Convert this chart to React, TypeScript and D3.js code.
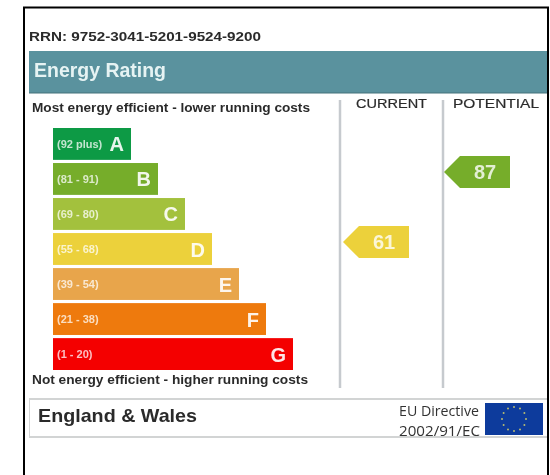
import * as d3 from 'd3';

const ratings = ['A', 'B', 'C', 'D', 'E', 'F', 'G'];
const ranges = ['(92 plus)', '(81 - 91)', '(69 - 80)', '(55 - 68)', '(39 - 54)', '(21 - 38)', '(1 - 20)'];
const barSteps = [1, 2, 3, 4, 5, 6, 7];
const columns = ['CURRENT', 'POTENTIAL'];
const scores = [61, 87];
const scoreBands = ['D', 'B'];
const flagStars = [0, 30, 60, 90, 120, 150, 180, 210, 240, 270, 300, 330];

const colours = ['#0f9a45', '#76ad2c', '#a3c13c', '#ecd13a', '#e8a54c', '#ee7a0a', '#f40006'];
const SANS = '"Liberation Sans", Arial, sans-serif';

const x = d3.scaleLinear().domain([1, 7]).range([131, 293]);
const y = d3.scaleBand().domain(ratings).range([128, 370]).paddingInner(0.09);
const colour = d3.scaleOrdinal<string, string>().domain(ratings).range(colours);
const columnX = d3.scaleOrdinal<string, number>().domain(columns).range([340, 443]);
const arrowX = d3.scaleOrdinal<string, number>().domain(columns).range([343, 444]);
const headX = d3.scaleOrdinal<string, number>().domain(columns).range([356, 453]);
const headW = d3.scaleOrdinal<string, number>().domain(columns).range([71, 86]);

// arrow flag pointing left, the body is 50px wide and the tip 16px
const arrow = d3.line();
const arrowPath = (left: number, top: number, h: number) =>
  arrow([
    [left, top + h / 2],
    [left + 16, top],
    [left + 66, top],
    [left + 66, top + h],
    [left + 16, top + h],
  ]) + 'Z';

const starAngle = d3.scaleLinear().domain([0, 360]).range([0, 2 * Math.PI]);

export default function App() {
  const bh = y.bandwidth();
  return (
    <svg
      width={550}
      height={475}
      style={{ position: 'absolute', left: 0, top: 0, background: '#fff' }}
      fontFamily={SANS}
    >
      <defs>
        <filter id="soft" x="0" y="0" width="100%" height="100%">
          <feGaussianBlur stdDeviation="0.6" />
        </filter>
      </defs>
      <g filter="url(#soft)">
        <text x={29} y={41} fontSize={13} fontWeight="bold" fill="#2b2b2b" textLength={232} lengthAdjust="spacingAndGlyphs">
          RRN: 9752-3041-5201-9524-9200
        </text>

        <rect x={29} y={51} width={519} height={42} fill="#5a929e" />
        <line x1={29} x2={548} y1={93} y2={93} stroke="#44707a" strokeWidth={1} />
        <text x={34} y={77} fontSize={19.5} fontWeight="bold" fill="#e6f3f3" textLength={132} lengthAdjust="spacingAndGlyphs">
          Energy Rating
        </text>

        <text x={32} y={112} fontSize={12} fontWeight="bold" fill="#2b2b2b" textLength={278} lengthAdjust="spacingAndGlyphs">
          Most energy efficient - lower running costs
        </text>
        <text x={32} y={384} fontSize={12} fontWeight="bold" fill="#2b2b2b" textLength={276} lengthAdjust="spacingAndGlyphs">
          Not energy efficient - higher running costs
        </text>

        {ratings.map((r, i) => {
          const end = x(barSteps[i]);
          const top = y(r) as number;
          return (
            <g key={r}>
              <rect x={53} y={top} width={end - 53} height={bh} fill={colour(r)} />
              <text x={57} y={top + bh / 2 + 4} fontSize={11} fontWeight="bold" fill="#fff" fillOpacity={0.75}>
                {ranges[i]}
              </text>
              <text x={end - 7} y={top + bh / 2 + 7.5} fontSize={20} fontWeight="bold" fill="#fff" fillOpacity={0.9} textAnchor="end">
                {r}
              </text>
            </g>
          );
        })}

        {columns.map((c, i) => {
          const cx = columnX(c);
          const top = (y(scoreBands[i]) as number) - 7;
          const left = arrowX(c);
          return (
            <g key={c}>
              <line x1={cx} x2={cx} y1={100} y2={388} stroke="#c6cace" strokeWidth={2.5} />
              <text x={headX(c)} y={108} fontSize={13} fill="#2b2b2b" stroke="#2b2b2b" strokeWidth={0.2} textLength={headW(c)} lengthAdjust="spacingAndGlyphs">
                {c}
              </text>
              <path d={arrowPath(left, top, 32)} fill={colour(scoreBands[i])} />
              <text x={left + 41} y={top + 23} fontSize={20} fontWeight="bold" fill="#fff" fillOpacity={0.8} textAnchor="middle">
                {scores[i]}
              </text>
            </g>
          );
        })}

        <rect x={29} y={399} width={519} height={38} fill="none" stroke="#d2d4d4" strokeWidth={2} />
        <text x={38} y={422} fontSize={18.5} fontWeight="bold" fill="#2a2a2a" textLength={159} lengthAdjust="spacingAndGlyphs">
          England &amp; Wales
        </text>
        <text x={399} y={416} fontSize={15} fontFamily='"Open Sans", sans-serif' fill="#333" textLength={80} lengthAdjust="spacingAndGlyphs">
          EU Directive
        </text>
        <text x={399} y={435.5} fontSize={15} fontFamily='"Open Sans", sans-serif' fill="#333" textLength={81} lengthAdjust="spacingAndGlyphs">
          2002/91/EC
        </text>
        <rect x={485} y={403} width={58} height={32} fill="#0b3a9c" />
        {flagStars.map(a => (
          <circle
            key={a}
            cx={514 + 12 * Math.sin(starAngle(a))}
            cy={419 - 12 * Math.cos(starAngle(a))}
            r={1}
            fill="#b9bb70"
          />
        ))}
      </g>

      <path d="M24 475V7.5H548V475" fill="none" stroke="#000" strokeWidth={2} />
    </svg>
  );
}
